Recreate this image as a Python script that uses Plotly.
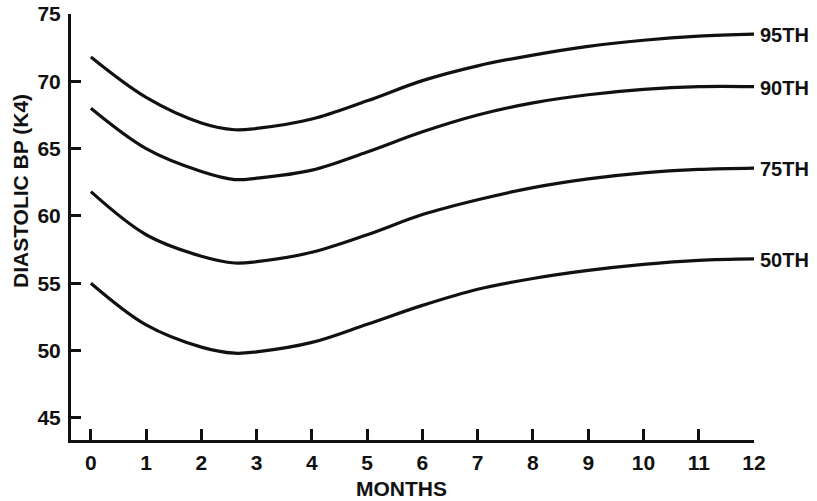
import plotly.graph_objects as go

# ---- data ----
months = [0, 1, 2, 2.6, 3, 4, 5, 6, 7, 8, 9, 10, 11, 12]
p95 = [71.8, 68.8, 66.9, 66.4, 66.5, 67.2, 68.55, 70.05, 71.15, 71.95, 72.6, 73.05, 73.35, 73.5]
p90 = [68.0, 65.0, 63.3, 62.7, 62.8, 63.4, 64.75, 66.25, 67.5, 68.4, 69.0, 69.4, 69.6, 69.6]
p75 = [61.8, 58.6, 57.0, 56.5, 56.6, 57.3, 58.6, 60.1, 61.2, 62.1, 62.75, 63.2, 63.45, 63.55]
p50 = [55.0, 51.9, 50.25, 49.8, 49.9, 50.6, 51.95, 53.35, 54.55, 55.35, 55.95, 56.4, 56.7, 56.8]
series = [("95TH", p95), ("90TH", p90), ("75TH", p75), ("50TH", p50)]

x_ticks = list(range(0, 13))
y_ticks = [45, 50, 55, 60, 65, 70, 75]
x_title = "MONTHS"
y_title = "DIASTOLIC BP (K4)"

W, H = 817, 501
ML, MR, MT, MB = 71, 63, 14, 61
PW, PH = W - ML - MR, H - MT - MB

FONT = "Liberation Sans, Arial, Helvetica, sans-serif"
INK = "#111111"

fig = go.Figure()
for name, vals in series:
    fig.add_trace(go.Scatter(
        x=months, y=vals, mode="lines", name=name,
        line=dict(color=INK, width=3.2, shape="spline", smoothing=1.0),
        showlegend=False, hoverinfo="skip",
    ))
    fig.add_annotation(
        x=months[-1], y=vals[-1], xref="x", yref="y",
        text=name, showarrow=False, xanchor="left", yanchor="middle",
        xshift=4, yshift=-1,
        font=dict(family=FONT, size=20, color=INK, weight="bold"),
    )

fig.add_annotation(
    x=(20 - ML) / PW, y=1 - (191 - MT) / PH, xref="paper", yref="paper",
    text=y_title, textangle=-90, showarrow=False,
    xanchor="center", yanchor="middle",
    font=dict(family=FONT, size=21, color=INK, weight="bold"),
)
fig.add_annotation(
    x=(401 - ML) / PW, y=-(488 - MT - PH) / PH, xref="paper", yref="paper",
    text=x_title, showarrow=False, xanchor="center", yanchor="middle",
    font=dict(family=FONT, size=21, color=INK, weight="bold"),
)

axis_common = dict(
    showline=True, linecolor=INK, linewidth=3, showgrid=False, zeroline=False,
    ticks="inside", tickcolor=INK, tickwidth=2.5, automargin=False,
    tickfont=dict(family=FONT, size=21, color=INK, weight="bold"),
)
fig.update_xaxes(range=[-0.36, 12.0], tickvals=x_ticks, ticklen=11,
                 ticklabelstandoff=2, **axis_common)
fig.update_yaxes(range=[43.35, 75.0], tickvals=y_ticks, ticklen=10,
                 ticklabelstandoff=3, **axis_common)

fig.update_layout(
    template="none",
    width=W, height=H, margin=dict(l=ML, r=MR, t=MT, b=MB, pad=0, autoexpand=False),
    plot_bgcolor="white", paper_bgcolor="white",
)
fig.write_html(
    "out.html",
    config={"displayModeBar": False},
    post_script="document.body.style.margin='0';document.body.style.overflow='hidden';",
)
